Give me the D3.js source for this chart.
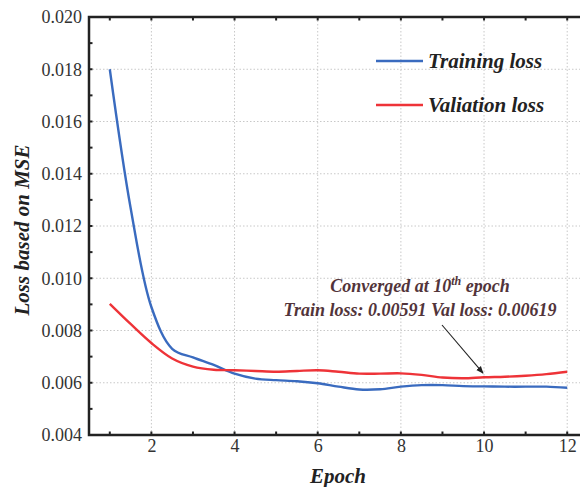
<!DOCTYPE html>
<html>
<head>
<meta charset="utf-8">
<script src="https://cdn.jsdelivr.net/npm/d3@7"></script>
<style>
  body { margin: 0; background: #fff; }
</style>
</head>
<body>
<svg id="chart" width="580" height="487"></svg>
<script>
var epochs = [1, 1.5, 2, 2.5, 3, 3.5, 4, 4.5, 5, 5.5, 6, 6.5, 7, 7.5, 8, 8.5, 9, 9.5, 10, 10.5, 11, 11.5, 12];
var trainLoss = [0.0180, 0.0127, 0.0089, 0.0073, 0.00697, 0.00668, 0.00635, 0.00616, 0.00610, 0.00606, 0.00598, 0.00585,
                 0.00574, 0.00575, 0.00585, 0.00591, 0.00591, 0.00587, 0.00586, 0.00585, 0.00585, 0.00585, 0.00581];
var valLoss = [0.00902, 0.00825, 0.00752, 0.00693, 0.00662, 0.00650, 0.00648, 0.00645, 0.00642, 0.00645, 0.00648, 0.00642,
               0.00635, 0.00635, 0.00636, 0.00630, 0.00620, 0.00617, 0.00621, 0.00623, 0.00627, 0.00633, 0.00642];
var seriesNames = ["Training loss", "Valiation loss"];
var seriesColors = ["#3a6bbf", "#ee3338"];
var xTicks = [2, 4, 6, 8, 10, 12];
var yTicks = [0.004, 0.006, 0.008, 0.010, 0.012, 0.014, 0.016, 0.018, 0.020];
var annotation = ["Converged at 10", "th", " epoch", "Train loss: 0.00591 Val loss: 0.00619"];

var FONT = "'Liberation Serif', 'Times New Roman', Times, serif";
var svg = d3.select("#chart").attr("font-family", FONT);
var pLeft = 89, pTop = 17, pBottom = 435, pRight = 588;

var x = d3.scaleLinear().domain([0.5, 12.5]).range([pLeft, pRight]);
var y = d3.scaleLinear().domain([0.004, 0.020]).range([pBottom, pTop]);

// dotted grid
var grid = svg.append("g");
grid.selectAll("line.gx")
    .data(xTicks)
    .enter().append("line")
    .attr("x1", function(d) { return x(d); })
    .attr("x2", function(d) { return x(d); })
    .attr("y1", pTop).attr("y2", pBottom)
    .attr("stroke", "#c8c8c8").attr("stroke-width", 1).attr("stroke-dasharray", "1.5,2");
grid.selectAll("line.gy")
    .data(yTicks.slice(1, -1))
    .enter().append("line")
    .attr("y1", function(d) { return y(d); })
    .attr("y2", function(d) { return y(d); })
    .attr("x1", pLeft).attr("x2", pRight)
    .attr("stroke", "#c8c8c8").attr("stroke-width", 1).attr("stroke-dasharray", "1.5,2");

// lines
var line = d3.line()
    .x(function(d) { return x(d[0]); })
    .y(function(d) { return y(d[1]); })
    .curve(d3.curveCatmullRom.alpha(0.5));

[trainLoss, valLoss].forEach(function(vals, i) {
    svg.append("path")
	.datum(epochs.map(function(e, j) { return [e, vals[j]]; }))
	.attr("d", line)
	.attr("fill", "none")
	.attr("stroke", seriesColors[i])
	.attr("stroke-width", 2.4);
});

// axes
var allX = d3.range(1, 13);
var allY = d3.range(0.004, 0.0205, 0.001);

var xAxis = svg.append("g")
    .attr("transform", "translate(0," + pBottom + ")")
    .call(d3.axisBottom(x).tickValues(xTicks).tickSize(0).tickPadding(4).tickFormat(d3.format("d")));
var yAxis = svg.append("g")
    .attr("transform", "translate(" + pLeft + ",0)")
    .call(d3.axisLeft(y).tickValues(yTicks).tickSize(0).tickPadding(7).tickFormat(d3.format(".3f")));
[xAxis, yAxis].forEach(function(a) {
    a.attr("font-family", FONT).attr("font-size", 18);
    a.select(".domain").remove();
    a.selectAll("text").attr("fill", "#333");
});

// inward ticks (bottom, top, left)
var tk = svg.append("g").attr("stroke", "#222").attr("stroke-width", 2);
tk.selectAll("line.tb").data(allX).enter().append("line")
    .attr("x1", function(d) { return x(d); }).attr("x2", function(d) { return x(d); })
    .attr("y1", pBottom).attr("y2", pBottom - 3.5);
tk.selectAll("line.tt").data(allX).enter().append("line")
    .attr("x1", function(d) { return x(d); }).attr("x2", function(d) { return x(d); })
    .attr("y1", pTop).attr("y2", pTop + 3.5);
tk.selectAll("line.tl").data(allY).enter().append("line")
    .attr("y1", function(d) { return y(d); }).attr("y2", function(d) { return y(d); })
    .attr("x1", pLeft).attr("x2", pLeft + 3.5);

// frame
svg.append("path")
    .attr("d", "M" + pRight + "," + pTop + "H" + pLeft + "V" + pBottom + "H" + pRight)
    .attr("fill", "none").attr("stroke", "#222").attr("stroke-width", 2.5);

// axis titles
svg.append("text")
    .attr("x", 338).attr("y", 483)
    .attr("text-anchor", "middle")
    .attr("font-size", 21).attr("font-weight", "bold").attr("font-style", "italic")
    .attr("fill", "#222")
    .text("Epoch");
svg.append("text")
    .attr("transform", "translate(29,230) rotate(-90)")
    .attr("text-anchor", "middle")
    .attr("font-size", 21).attr("font-weight", "bold").attr("font-style", "italic")
    .attr("fill", "#222")
    .text("Loss based on MSE");

// legend
var legend = svg.append("g");
seriesNames.forEach(function(name, i) {
    var ly = 61 + i * 44;
    legend.append("line")
	.attr("x1", 376).attr("x2", 423)
	.attr("y1", ly).attr("y2", ly)
	.attr("stroke", seriesColors[i]).attr("stroke-width", 2.6);
    legend.append("text")
	.attr("x", 428).attr("y", ly + 7)
	.attr("font-size", 21).attr("font-weight", "bold").attr("font-style", "italic")
	.attr("fill", "#222")
	.text(name);
});

// annotation
var note = svg.append("g")
    .attr("font-weight", "bold").attr("font-style", "italic").attr("fill", "#52343a");
var t1 = note.append("text")
    .attr("x", 420).attr("y", 292).attr("text-anchor", "middle").attr("font-size", 18);
t1.append("tspan").text(annotation[0]);
t1.append("tspan").attr("dy", -7).attr("font-size", 12).text(annotation[1]);
t1.append("tspan").attr("dy", 7).text(annotation[2]);
note.append("text")
    .attr("x", 420).attr("y", 316).attr("text-anchor", "middle").attr("font-size", 18)
    .text(annotation[3]);

// arrow to the 10th epoch
svg.append("defs").append("marker")
    .attr("id", "arrow")
    .attr("viewBox", "0 0 10 10")
    .attr("refX", 9).attr("refY", 5)
    .attr("markerWidth", 7).attr("markerHeight", 7)
    .attr("orient", "auto")
    .append("path")
    .attr("d", "M0,1L10,5L0,9Z")
    .attr("fill", "#222");
svg.append("line")
    .attr("x1", 442).attr("y1", 325)
    .attr("x2", x(10) - 1).attr("y2", y(0.00625) - 3)
    .attr("stroke", "#222").attr("stroke-width", 1.1)
    .attr("marker-end", "url(#arrow)");
</script>
</body>
</html>
